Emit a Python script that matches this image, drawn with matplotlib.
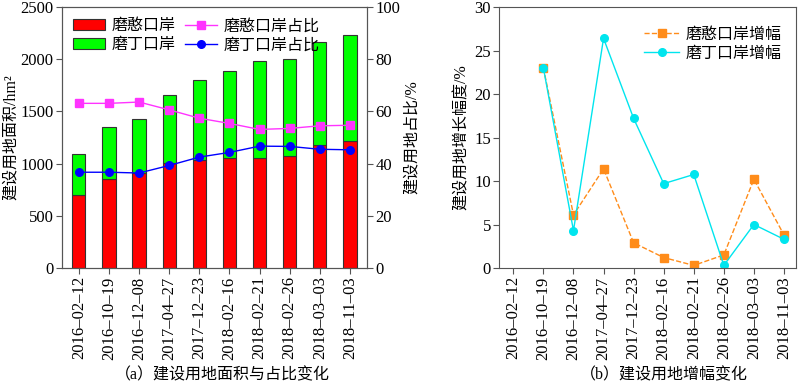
import matplotlib
matplotlib.use('Agg')
import matplotlib.pyplot as plt
import numpy as np

plt.rcParams['font.family'] = ['Liberation Serif', 'Noto Sans CJK SC', 'DejaVu Sans']
plt.rcParams['axes.edgecolor'] = '#555555'
plt.rcParams['xtick.color'] = '#555555'
plt.rcParams['ytick.color'] = '#555555'
plt.rcParams['xtick.labelcolor'] = 'black'
plt.rcParams['ytick.labelcolor'] = 'black'

dates = ['2016–02–12', '2016–10–19', '2016–12–08', '2017–04–27', '2017–12–23',
         '2018–02–16', '2018–02–21', '2018–02–26', '2018–03–03', '2018–11–03']

# area, hm2
mohan_area = [695, 850, 906, 1005, 1031, 1050, 1050, 1069, 1175, 1220]
moding_area = [400, 498, 518, 653, 771, 839, 931, 935, 986, 1017]

# share, %
mohan_share = [63.1, 63.1, 63.6, 60.6, 57.4, 55.4, 53.1, 53.5, 54.5, 54.7]
moding_share = [36.7, 36.7, 36.4, 39.3, 42.5, 44.3, 46.7, 46.6, 45.5, 45.3]

# growth, % (no value for first date)
mohan_growth = [np.nan, 23.0, 6.1, 11.4, 2.9, 1.2, 0.3, 1.5, 10.2, 3.8]
moding_growth = [np.nan, 23.0, 4.3, 26.4, 17.2, 9.7, 10.75, 0.3, 5.0, 3.3]

x = np.arange(len(dates))
fs = 11.5
tfs = 12

fig = plt.figure(figsize=(8, 3.86), dpi=100)

# (a)
ax1 = fig.add_axes([0.0775, 0.3057, 0.381, 0.676])
b1 = ax1.bar(x, mohan_area, width=0.44, color='#ff0000', edgecolor='#333333', linewidth=0.8, label='磨憨口岸')
b2 = ax1.bar(x, moding_area, width=0.44, bottom=mohan_area, color='#00ff00', edgecolor='#333333', linewidth=0.8, label='磨丁口岸')
ax1.set_xlim(-0.56, 9.56)
ax1.set_ylim(0, 2500)
ax1.set_yticks([0, 500, 1000, 1500, 2000, 2500])
ax1.set_xticks(x)
ax1.set_xticklabels(dates, rotation=90)
ax1.set_ylabel('建设用地面积/hm²', fontsize=fs, labelpad=1)
ax1.tick_params(direction='out', labelsize=tfs, length=4, pad=2)

ax2 = ax1.twinx()
l1, = ax2.plot(x, mohan_share, color='#ff33ff', marker='s', markersize=5.5, linewidth=1, label='磨憨口岸占比')
l2, = ax2.plot(x, moding_share, color='#0000ff', marker='o', markersize=5.5, linewidth=1, label='磨丁口岸占比')
ax2.set_ylim(0, 100)
ax2.set_yticks([0, 20, 40, 60, 80, 100])
ax2.set_ylabel('建设用地占比/%', fontsize=fs, labelpad=3)
ax2.tick_params(direction='out', labelsize=tfs, length=4, pad=2)
ax2.legend([b1, b2, l1, l2], ['磨憨口岸', '磨丁口岸', '磨憨口岸占比', '磨丁口岸占比'],
           ncol=2, frameon=False, fontsize=fs, loc='upper left', bbox_to_anchor=(0.0, 1.0),
           handlelength=2.0, columnspacing=0.6, labelspacing=0.2, handletextpad=0.4, borderaxespad=0.3)

# (b)
ax3 = fig.add_axes([0.624, 0.3057, 0.371, 0.676])
ax3.plot(x, mohan_growth, color='#ff8c1a', linestyle='--', marker='s', markersize=5.5, linewidth=1, label='磨憨口岸增幅')
ax3.plot(x, moding_growth, color='#00e5ee', linestyle='-', marker='o', markersize=5.5, linewidth=1, label='磨丁口岸增幅')
ax3.set_xlim(-0.47, 9.4)
ax3.set_ylim(0, 30)
ax3.set_yticks([0, 5, 10, 15, 20, 25, 30])
ax3.set_xticks(x)
ax3.set_xticklabels(dates, rotation=90)
ax3.set_ylabel('建设用地增长幅度/%', fontsize=fs, labelpad=3)
ax3.tick_params(direction='out', labelsize=tfs, length=4, pad=2)
ax3.legend(frameon=False, fontsize=fs, loc='upper right', bbox_to_anchor=(1.0, 0.98),
           handlelength=2.2, labelspacing=0.2, handletextpad=0.4)

fig.text(0.278, 0.008, '（a）建设用地面积与占比变化', ha='center', va='bottom', fontsize=fs)
fig.text(0.83, 0.008, '（b）建设用地增幅变化', ha='center', va='bottom', fontsize=fs)

fig.savefig('out.png', dpi=100)
